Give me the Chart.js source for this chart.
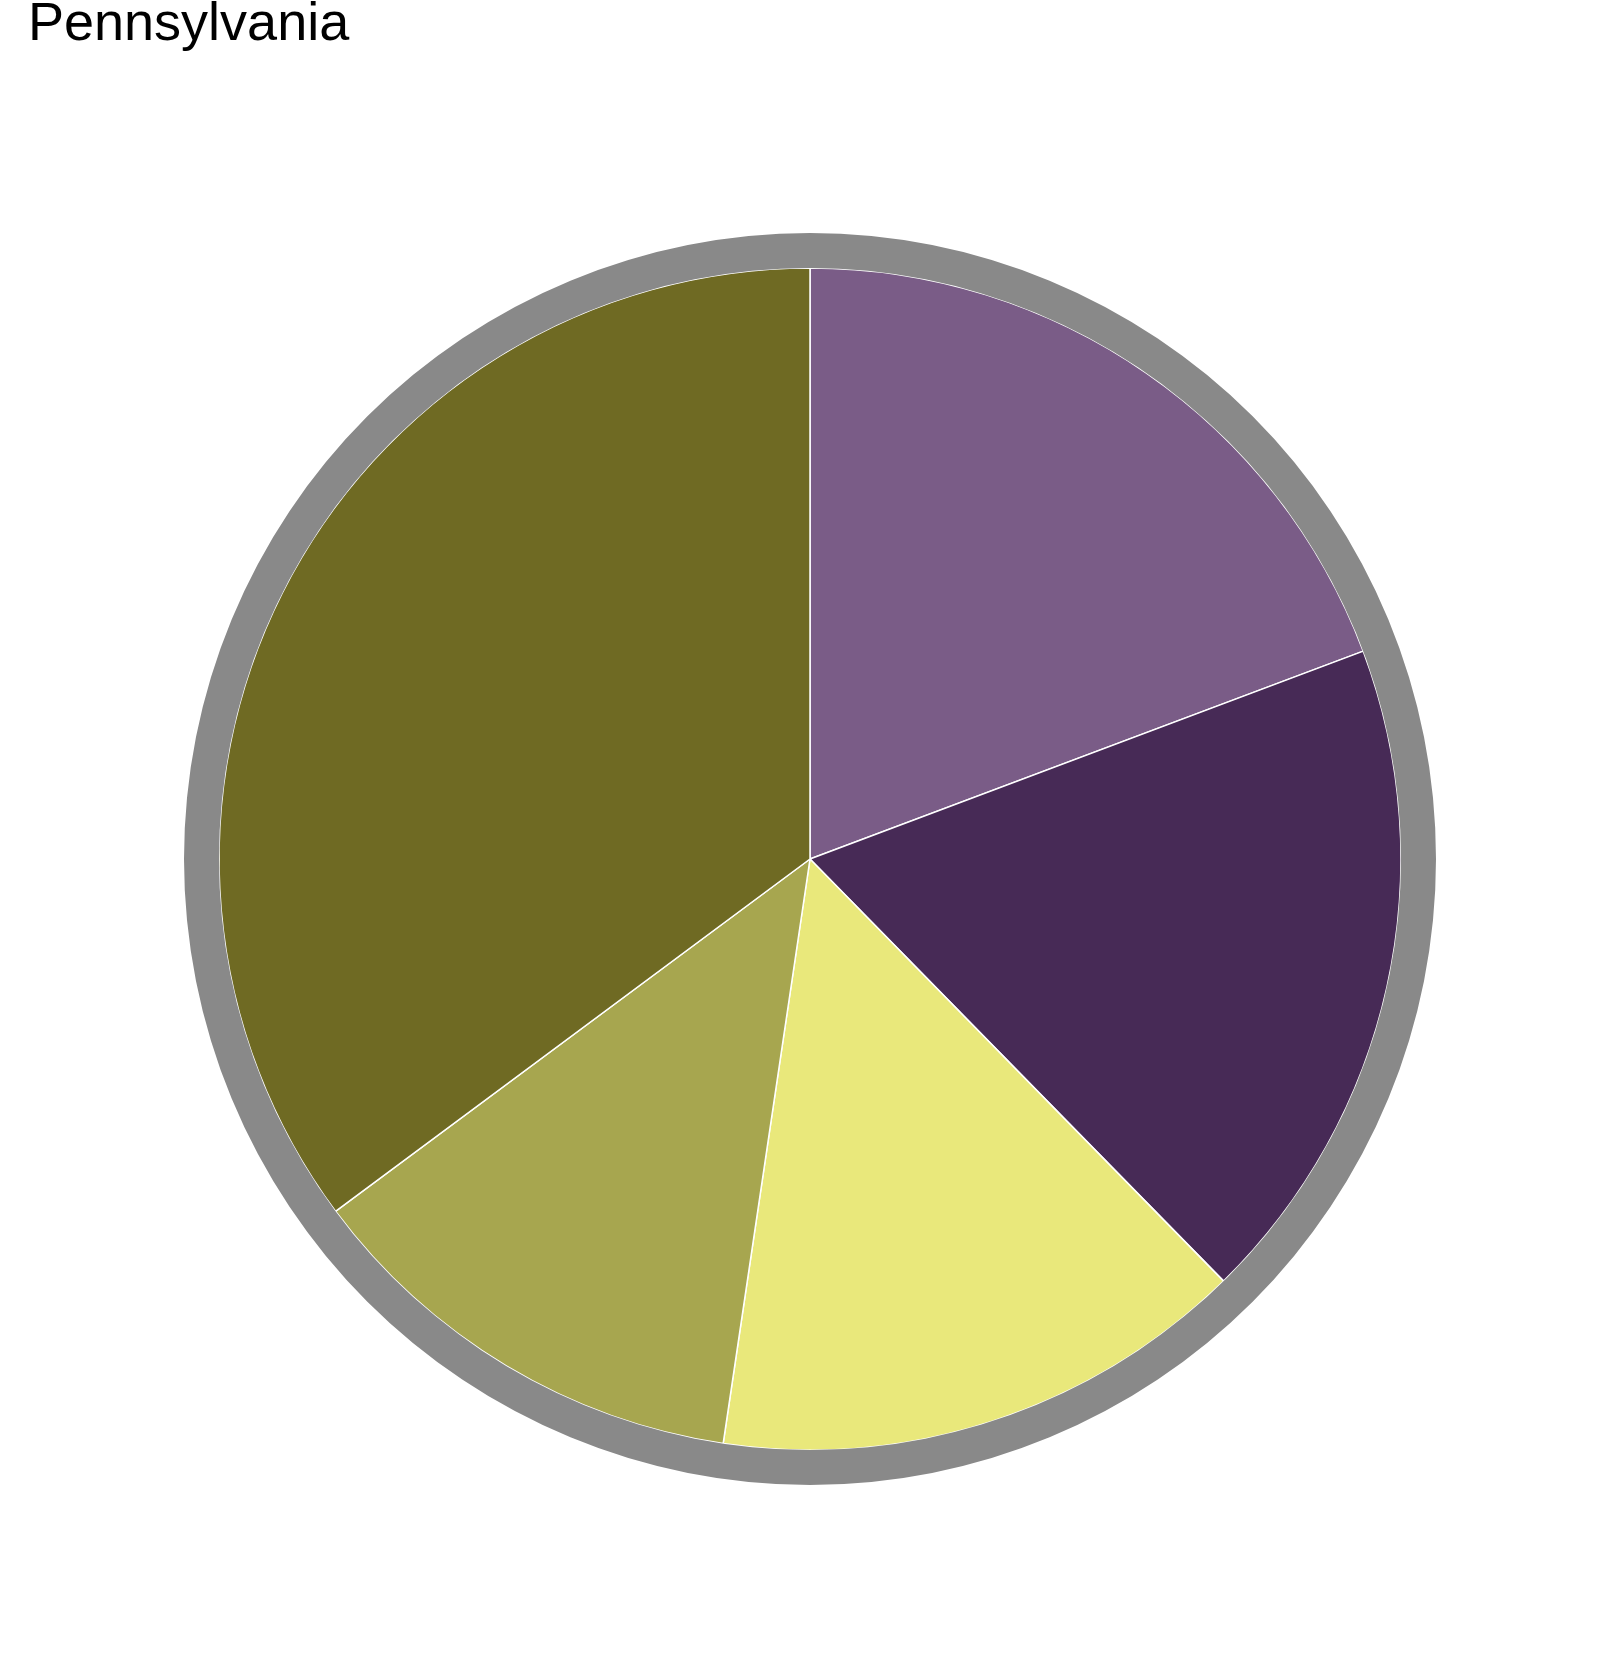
<!DOCTYPE html>
<html>
<head>
<meta charset="utf-8">
<script src="https://cdn.jsdelivr.net/npm/chart.js@4/dist/chart.umd.min.js"></script>
<style>
  html,body{margin:0;padding:0;background:#fff;overflow:hidden;}
  #wrap{position:relative;width:1608px;height:1654px;}
  #title{position:absolute;left:28px;top:-6px;font-family:"Liberation Sans",Arial,sans-serif;font-size:54px;line-height:54px;color:#000;white-space:nowrap;}
</style>
</head>
<body>
<div id="wrap">
  <div id="title">Pennsylvania</div>
  <canvas id="pie"></canvas>
</div>
<script>
  // slices, clockwise from 12 o'clock
  const categories = ['A', 'B', 'C', 'D', 'E'];
  const values = [19.3, 18.4, 14.7, 12.5, 35.2];
  const sliceColors = ['#7a5c87', '#472a56', '#e9e87b', '#a7a64f', '#6f6a23'];
  const ringColor = '#898989';

  new Chart(document.getElementById('pie'), {
    type:'pie',
    data:{
      labels: categories,
      datasets:[
        { data:[1], backgroundColor:[ringColor], borderWidth:0, weight:35 },
        { data: values, backgroundColor: sliceColors, borderColor:'#ffffff', borderWidth:1.5, weight:591 }
      ]
    },
    options:{
      responsive:true, maintainAspectRatio:false, animation:false,
      layout:{ padding:{ top:233, bottom:169, left:184, right:172 } },
      plugins:{ legend:{ display:false }, tooltip:{ enabled:false }, title:{ display:false } }
    }
  });
</script>
</body>
</html>
